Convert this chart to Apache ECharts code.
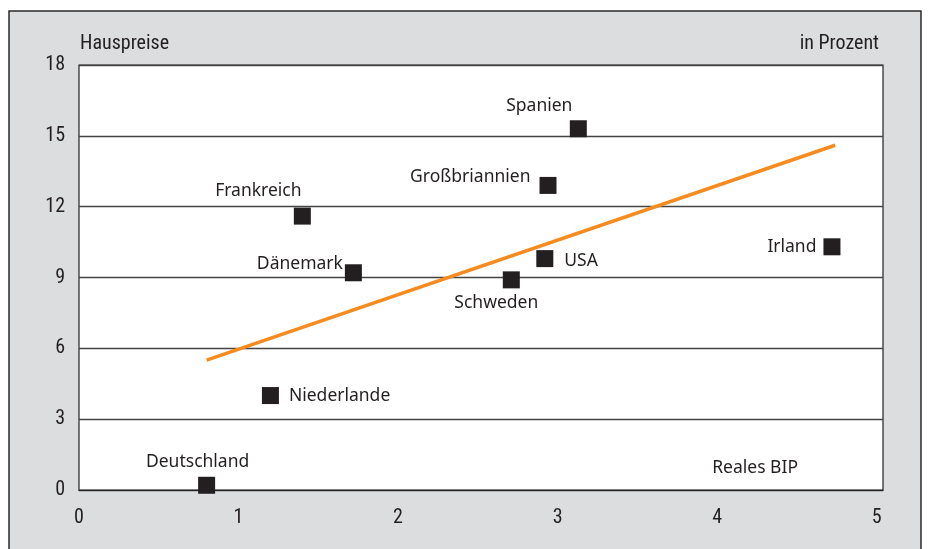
<!DOCTYPE html>
<html><head><meta charset="utf-8">
<script src="https://cdn.jsdelivr.net/npm/echarts@6/dist/echarts.min.js"></script>
<style>html,body{margin:0;padding:0;background:#fff}#c{width:931px;height:549px}</style>
</head><body><div id="c"></div>
<script>
const countries = ['Deutschland','Niederlande','Frankreich','Dänemark','Schweden','USA','Großbriannien','Spanien','Irland'];
const realGDP = [0.80, 1.20, 1.40, 1.72, 2.71, 2.92, 2.94, 3.13, 4.72];
const housePrices = [0.2, 4.0, 11.6, 9.2, 8.9, 9.8, 12.9, 15.3, 10.3];
const trendX = [0.80, 4.74];
const trendY = [5.5, 14.6];
const xTicks = [0,1,2,3,4,5];
const yTicks = [0,3,6,9,12,15,18];

const labelStyle = {
  'Deutschland': {position:'top', distance:6, offset:[-9,0]},
  'Niederlande': {position:'right', distance:10, offset:[0,0]},
  'Frankreich': {position:'top', distance:8, offset:[-44,0]},
  'Dänemark': {position:'left', distance:2, offset:[0,-9]},
  'Schweden': {position:'bottom', distance:6, offset:[-15,0]},
  'USA': {position:'right', distance:11, offset:[0,2]},
  'Großbriannien': {position:'left', distance:9, offset:[0,-8]},
  'Spanien': {position:'top', distance:5, offset:[-39,0]},
  'Irland': {position:'left', distance:7, offset:[0,0]}
};

const txtFont = "'Noto Sans', sans-serif";
const axFont = "'Liberation Sans Narrow','Roboto Condensed','Roboto', sans-serif";
const ink = '#231f20';

const chart = echarts.init(document.getElementById('c'));
chart.setOption({
  animation:false,
  backgroundColor:'#fff',
  graphic:[{type:'rect', z:-10, shape:{x:9,y:11,width:912,height:545}, style:{fill:'#dcdddf', stroke:'#2a2a2a', lineWidth:1.5}}],
  grid:{left:79, right:48, top:65, bottom:59, show:true, backgroundColor:'#fff', borderColor:'#222', borderWidth:1.2},
  xAxis:{type:'value', min:0, max:5.04, interval:1,
    name:'Reales BIP', nameLocation:'end', nameGap:0,
    nameTextStyle:{fontFamily:txtFont, fontSize:17.5, color:ink, align:'right', verticalAlign:'bottom', padding:[0,85,13,0]},
    axisLine:{show:true, lineStyle:{color:'#222', width:1.2}}, axisTick:{show:false}, splitLine:{show:false},
    axisLabel:{margin:18, fontFamily:axFont, fontSize:20, color:ink, showMaxLabel:false,
      formatter:v => xTicks.includes(v) ? String(v) : ''}},
  yAxis:{type:'value', min:0, max:18, interval:3,
    axisLine:{show:false}, axisTick:{show:false},
    splitLine:{show:true, lineStyle:{color:'#444', width:1.3}},
    axisLabel:{margin:14, fontFamily:axFont, fontSize:20, color:ink,
      formatter:v => yTicks.includes(v) ? String(v) : ''}},
  title:[
    {text:'Hauspreise', left:75, top:29, textStyle:{fontFamily:axFont, fontSize:20, fontWeight:'normal', color:ink}},
    {text:'in Prozent', right:47, top:29, textStyle:{fontFamily:axFont, fontSize:20, fontWeight:'normal', color:ink}}
  ],
  series:[
    {type:'line', data:trendX.map((x,i)=>[x,trendY[i]]), symbol:'none', z:3,
      lineStyle:{color:'#f68b1f', width:3.5}},
    {type:'scatter', symbol:'rect', symbolSize:17, z:4,
      itemStyle:{color:ink, opacity:1},
      data:countries.map((c,i)=>({name:c, value:[realGDP[i], housePrices[i]],
        label:Object.assign({show:true, formatter:c, fontFamily:txtFont, fontSize:17.5, color:ink}, labelStyle[c])}))}
  ]
});
</script></body></html>
